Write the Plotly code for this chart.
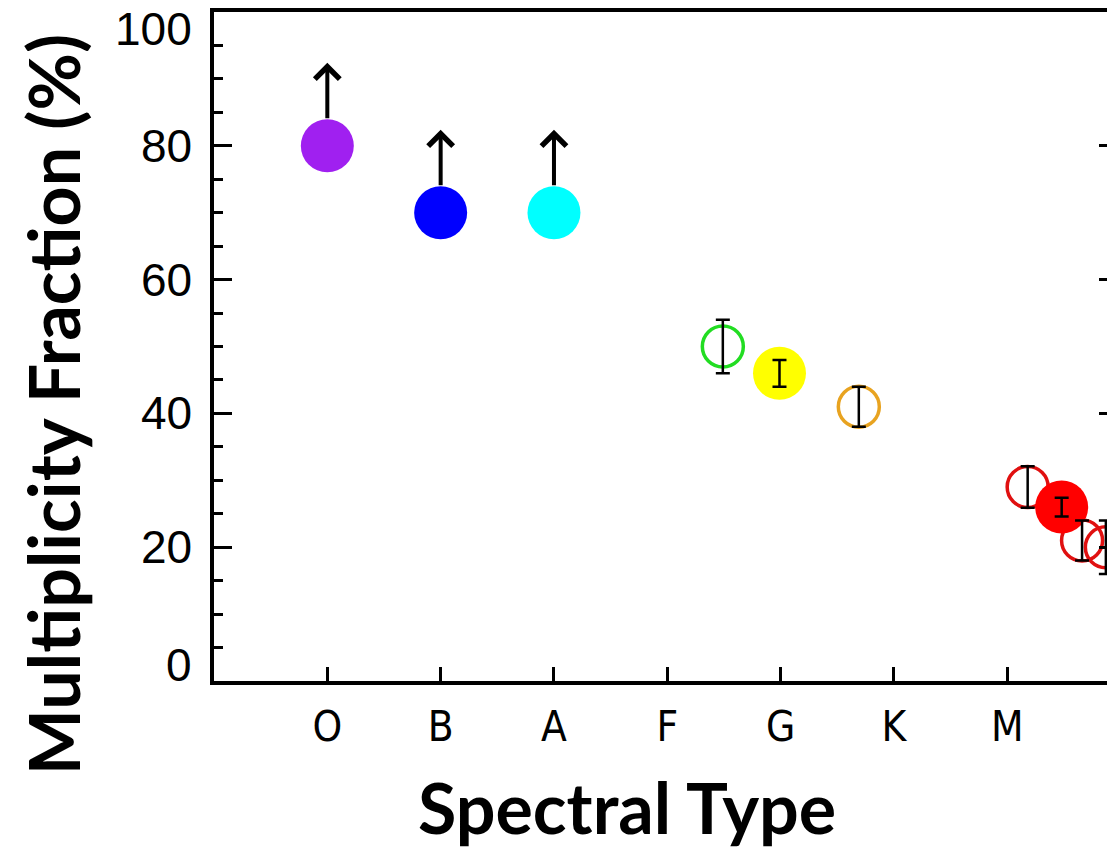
import plotly.graph_objects as go

# ---------------- data ----------------
spectral_types = ["O", "B", "A", "F", "G", "K", "M"]
type_index = [0, 1, 2, 3, 4, 5, 6]

# lower limits (filled circles with upward arrows)
limit_x = [0.0, 1.0, 2.0]
limit_y = [80, 70, 70]
limit_colors = ["#A020F0", "#0000FF", "#00FFFF"]

# filled circles with error bars
filled_x = [3.99, 6.48]
filled_y = [46, 26]
filled_err = [2.0, 1.4]
filled_colors = ["#FFFF00", "#FF0000"]

# open circles with error bars
ring_x = [3.49, 4.69, 6.18, 6.66, 6.87]
ring_y = [50, 41, 29, 21, 20]
ring_err = [4.0, 3.0, 3.1, 3.0, 4.0]
ring_colors = ["#22DD22", "#E8A320", "#E01010", "#E01010", "#E01010"]

y_tick_vals = [0, 20, 40, 60, 80, 100]
y_tick_text = ["0", "20", "40", "60", "80", "100"]
right_tick_vals = [20, 40, 60, 80]

# ---------------- style ----------------
W, H = 1107, 850
M_L, M_R, M_T, M_B = 214, 0, 12, 169
ARROW_LEN = 12.4            # arrow length in % units
LABEL_YSHIFT = [16, 0, 0, 0, 0, -17]
tick_font = "Liberation Sans, Arial, sans-serif"
xtick_font = "Liberation Sans Narrow, DejaVu Sans Condensed, Arial Narrow, sans-serif"
title_font = "Lato, Carlito, Open Sans, sans-serif"

fig = go.Figure()

# open rings
fig.add_trace(go.Scatter(
    x=ring_x, y=ring_y, mode="markers",
    marker=dict(size=41, color="rgba(0,0,0,0)",
                line=dict(color=ring_colors, width=3.5)),
    hoverinfo="skip", showlegend=False))

# lower-limit filled circles
fig.add_trace(go.Scatter(
    x=limit_x, y=limit_y, mode="markers",
    marker=dict(size=53, color=limit_colors, line=dict(width=0)),
    hoverinfo="skip", showlegend=False))

# filled circles
fig.add_trace(go.Scatter(
    x=filled_x, y=filled_y, mode="markers",
    marker=dict(size=53, color=filled_colors, line=dict(width=0)),
    hoverinfo="skip", showlegend=False))

# error bars on top
err_x = ring_x + filled_x
err_y = ring_y + filled_y
err_v = ring_err + filled_err
fig.add_trace(go.Scatter(
    x=err_x, y=err_y, mode="markers", yaxis="y2",
    marker=dict(size=2, opacity=0),
    error_y=dict(type="data", array=err_v, color="black", thickness=2.5, width=7),
    hoverinfo="skip", showlegend=False))

# arrows for lower limits
for xv, yv in zip(limit_x, limit_y):
    fig.add_annotation(
        x=xv, y=yv + ARROW_LEN, ax=xv, ay=yv,
        xref="x", yref="y", axref="x", ayref="y",
        showarrow=True, arrowhead=4, arrowsize=1.2, arrowwidth=4,
        arrowcolor="black", startstandoff=26, text="")

# y tick labels
for v, t, s in zip(y_tick_vals, y_tick_text, LABEL_YSHIFT):
    fig.add_annotation(
        x=0, xref="paper", y=v, yref="y", text=t, showarrow=False,
        xanchor="right", yanchor="middle", xshift=-20, yshift=s,
        font=dict(family=tick_font, size=46, color="black"))

# axis titles
fig.add_annotation(
    x=-0.18, xref="paper", y=0.4126, yref="paper",
    text="<b>Multiplicity Fraction (%)</b>", textangle=-90, showarrow=False,
    xanchor="center", yanchor="middle",
    font=dict(family=title_font, size=70, color="black"))
fig.add_annotation(
    x=0.4625, xref="paper", y=-M_B / (H - M_T - M_B), yref="paper",
    text="<b>Spectral Type</b>", showarrow=False,
    xanchor="center", yanchor="bottom", borderpad=0,
    font=dict(family=title_font, size=70, color="black"))

fig.update_layout(
    width=W, height=H,
    margin=dict(l=M_L, r=M_R, t=M_T, b=M_B, pad=0),
    paper_bgcolor="white", plot_bgcolor="white",
    showlegend=False,
    xaxis=dict(
        range=[-1.0, 6.88], tickvals=type_index, ticktext=spectral_types,
        ticks="inside", ticklen=14, tickwidth=3, tickcolor="black",
        showline=True, linecolor="black", linewidth=3.5, mirror=True,
        showgrid=False, zeroline=False, ticklabelstandoff=6,
        tickfont=dict(family=xtick_font, size=42, color="black")),
    yaxis=dict(
        range=[0, 100], tickvals=y_tick_vals, showticklabels=False,
        ticks="inside", ticklen=18, tickwidth=3, tickcolor="black",
        minor=dict(dtick=5, ticks="inside", ticklen=9, tickwidth=3, tickcolor="black"),
        showline=True, linecolor="black", linewidth=3.5, mirror=False,
        showgrid=False, zeroline=False),
    yaxis2=dict(
        range=[0, 100], overlaying="y", side="right", tickvals=right_tick_vals,
        ticks="inside", ticklen=8, tickwidth=3, tickcolor="black",
        showticklabels=False, showline=False, showgrid=False, zeroline=False),
)

fig.write_html("out.html")
